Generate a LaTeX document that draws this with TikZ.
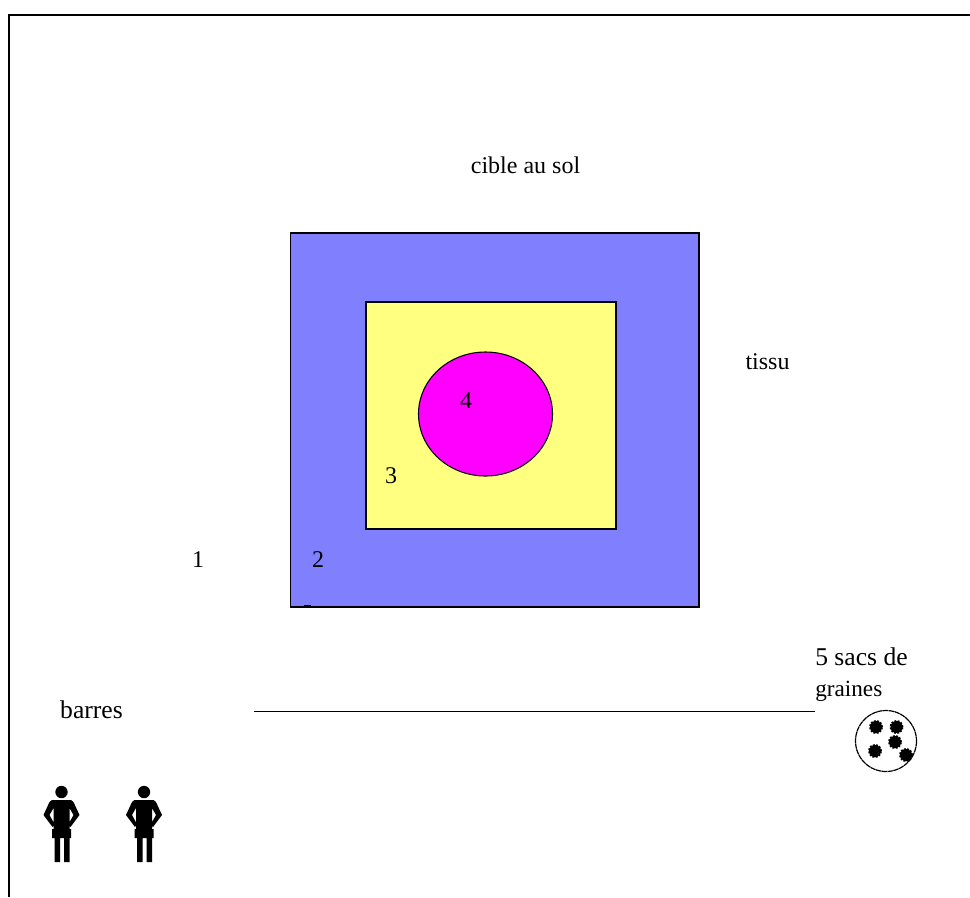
\documentclass[tikz,border=0pt]{standalone}
\usepackage{fontspec}
\setmainfont{Liberation Serif}
\definecolor{tissu}{RGB}{128,128,255}
\definecolor{jaune}{RGB}{255,255,128}
\definecolor{rose}{RGB}{255,0,255}
\tikzset{
  lbl/.style={font=\fontsize{18pt}{24pt}\selectfont,inner sep=0pt,text=black},
  lblgrand/.style={font=\fontsize{19.2pt}{24pt}\selectfont,inner sep=0pt,text=black},
  lblpetit/.style={font=\fontsize{17.4pt}{24pt}\selectfont,inner sep=0pt,text=black},
  zone/.style={draw=black,line width=0.8pt},
  personne/.pic={
    \fill[black] (0,-26) circle (6.2);
    \fill[black] (-9.5,-18) -- (9.5,-18) -- (12,-16) -- (18,-3) -- (9,9) -- (7,6) -- (12,-3) -- (8,-10)
      -- (8,11) -- (9.5,11) -- (9.5,20) -- (8,20) -- (8,44) -- (2.5,44) -- (2.5,20) -- (-1.5,20) -- (-1.5,44) -- (-7,44) -- (-7,20) -- (-9.5,20) -- (-9.5,11) -- (-8,11)
      -- (-8,-10) -- (-12,-3) -- (-7,6) -- (-9,9) -- (-18,-3) -- (-12,-16) -- cycle;
  },
  graine/.style={fill=black,draw=black,line width=1.4pt,densely dotted,circle,inner sep=0pt,minimum size=9pt}
}
\begin{document}
\begin{tikzpicture}[x=0.75pt,y=-0.75pt]
\useasboundingbox (0,0) rectangle (970,897);
\fill[white] (0,0) rectangle (970,897);
\draw[line width=1.5pt] (9,897) -- (9,15) -- (970,15);
\draw[zone,fill=tissu] (290.5,233) rectangle (699,607);
\draw[zone,fill=jaune] (366,302) rectangle (616,529);
\draw[zone,fill=rose] (485.5,414) ellipse (67 and 62);
\draw[line width=1.5pt] (304,606) -- (311,606);
\node[lbl,anchor=base] (titre) at (525.5,173) {cible au sol};
\node[lbl,anchor=base] (tissu) at (767.5,369) {tissu};
\node[lbl,anchor=base] (n1) at (198,567) {1};
\node[lbl,anchor=base] (n2) at (318,567) {2};
\node[lbl,anchor=base] (n3) at (391,483) {3};
\node[lbl,anchor=base] (n4) at (466,408) {4};
\node[lblgrand,anchor=base west] (sacs) at (815,665) {5 sacs de};
\node[lblpetit,anchor=base west] (graines) at (815,696) {graines};
\node[lblgrand,anchor=base] (barres) at (91.5,718) {barres};
\coordinate (barreA) at (254,711.5);
\coordinate (barreB) at (815,711.5);
\draw[line width=1pt] (barreA) -- (barreB);
\draw[line width=0.9pt,dash pattern=on 4pt off 0.4pt] (886,741) circle (30.5);
\node[graine] (g1) at (876,727) {};
\node[graine] (g2) at (896.5,727) {};
\node[graine] (g3) at (895,742) {};
\node[graine] (g4) at (875,751) {};
\node[graine] (g5) at (906,755) {};
\pic at (61.5,818) {personne};
\pic at (144,818) {personne};
\end{tikzpicture}
\end{document}
